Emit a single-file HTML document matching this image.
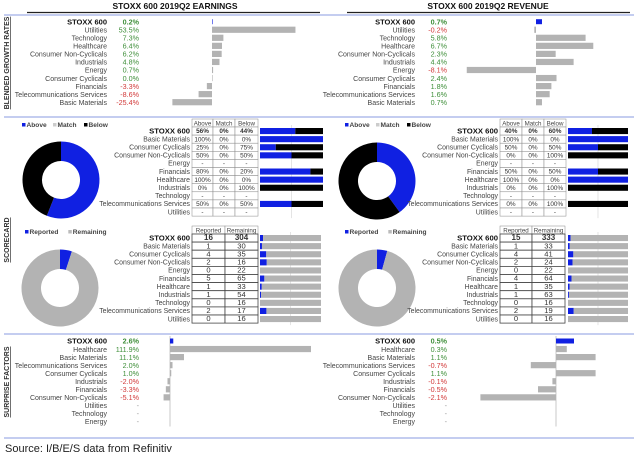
<!DOCTYPE html>
<html><head><meta charset="utf-8">
<style>
html,body{margin:0;padding:0;background:#fff;}
svg{display:block;font-family:"Liberation Sans",Arial,sans-serif;}
</style></head>
<body>
<svg id="c" width="640" height="458" viewBox="0 0 640 458" xmlns="http://www.w3.org/2000/svg"></svg>
<script>
// ---------- DATA ----------
const earnCats=["STOXX 600","Utilities","Technology","Healthcare","Consumer Non-Cyclicals","Industrials","Energy","Consumer Cyclicals","Financials","Telecommunications Services","Basic Materials"];
const earnVals=[0.2,53.5,7.3,6.4,6.2,4.8,0.7,0.0,-3.3,-8.6,-25.4];
const revCats=["STOXX 600","Utilities","Technology","Healthcare","Consumer Non-Cyclicals","Industrials","Energy","Consumer Cyclicals","Financials","Telecommunications Services","Basic Materials"];
const revVals=[0.7,-0.2,5.8,6.7,2.3,4.4,-8.1,2.4,1.8,1.6,0.7];
const scoreCats=["STOXX 600","Basic Materials","Consumer Cyclicals","Consumer Non-Cyclicals","Energy","Financials","Healthcare","Industrials","Technology","Telecommunications Services","Utilities"];
const earnAbove=[56,100,25,50,null,80,100,0,null,50,null];
const earnMatch=[0,0,0,0,null,0,0,0,null,0,null];
const earnBelow=[44,0,75,50,null,20,0,100,null,50,null];
const revAbove=[40,100,50,0,null,50,100,0,null,0,null];
const revMatch=[0,0,0,0,null,0,0,0,null,0,null];
const revBelow=[60,0,50,100,null,50,0,100,null,100,null];
const earnReported=[16,1,4,2,0,5,1,1,0,2,0];
const earnRemaining=[304,30,35,16,22,65,33,54,16,17,16];
const revReported=[15,1,4,2,0,4,1,1,0,2,0];
const revRemaining=[333,33,41,24,22,64,35,63,16,19,16];
const surpECats=["STOXX 600","Healthcare","Basic Materials","Telecommunications Services","Consumer Cyclicals","Industrials","Financials","Consumer Non-Cyclicals","Utilities","Technology","Energy"];
const surpEVals=[2.6,111.9,11.1,2.0,1.0,-2.0,-3.3,-5.1,null,null,null];
const surpRCats=["STOXX 600","Healthcare","Basic Materials","Telecommunications Services","Consumer Cyclicals","Industrials","Financials","Consumer Non-Cyclicals","Utilities","Technology","Energy"];
const surpRVals=[0.5,0.3,1.1,-0.7,1.1,-0.1,-0.5,-2.1,null,null,null];

// ---------- HELPERS ----------
const NS="http://www.w3.org/2000/svg";
const svg=document.getElementById('c');
const BLUE="#1020e2",GREY="#b3b3b3",GREEN="#3f8f3a",RED="#d23a3a",LINE="#8a9be0";
function mk(tag,attrs,parent){const e=document.createElementNS(NS,tag);for(const k in attrs)e.setAttribute(k,attrs[k]);(parent||svg).appendChild(e);return e;}
function txt(x,y,s,anchor,size,fill,weight){const t=mk('text',{x:x,y:y,'text-anchor':anchor||'start','font-size':size||7.4,fill:fill||'#333','font-weight':weight||'normal'});t.textContent=s;return t;}
function fmt(v){return v===null?'-':v.toFixed(1)+'%';}
function col(v){return v===null?'#999':(v<0?RED:GREEN);}

// ---------- FRAME ----------
let e;
e=txt(175,9,"STOXX 600 2019Q2 EARNINGS",'middle',8.5,'#111','bold');


e=txt(488,9,"STOXX 600 2019Q2 REVENUE",'middle',8.5,'#111','bold');


mk('line',{x1:27,y1:12.5,x2:320,y2:12.5,stroke:'#222','stroke-width':1.2});
mk('line',{x1:347,y1:12.5,x2:630,y2:12.5,stroke:'#222','stroke-width':1.2});
[15,117,334,438].forEach(y=>{mk('line',{x1:4,y1:y,x2:634,y2:y,stroke:LINE,'stroke-width':1});});

function vlabel(s,cx,cy,name){
  const t=mk('text',{x:0,y:0,'text-anchor':'middle','font-size':7,'font-weight':'bold',fill:'#333',transform:`translate(${cx},${cy}) rotate(-90)`,'text-decoration':'underline'});
  t.textContent=s;
  
  
}
vlabel("BLENDED GROWTH RATES",9,63,'growth-section-label');
vlabel("SCORECARD",9,240,'scorecard-section-label');
vlabel("SURPRISE FACTORS",9,382,'surprise-section-label');

// ---------- GROWTH / SURPRISE PANELS ----------
function barPanel(cats,vals,labelX,valX,axisX,scale,y0,pre,axisLine){
  const step=8.05;
  const g=mk('g',{});
  
  
  if(axisLine){mk('line',{x1:axisX,y1:y0-5,x2:axisX,y2:y0+step*(cats.length-1)+5,stroke:'#bbb','stroke-width':0.8},g);}
  cats.forEach((c,i)=>{
    const cy=y0+i*step, v=vals[i], first=i===0;
    const l=txt(labelX,cy+2.7,c,'end',first?7.5:7.0,first?'#111':'#444',first?'bold':'normal');
    
    
    g.appendChild(l);
    const vt=txt(valX,cy+2.7,fmt(v),'end',7.2,col(v),first?'bold':'normal');
    
    
    g.appendChild(vt);
    if(v!==null){
      const w=Math.abs(v)*scale, h=first?5:6.2;
      const r=mk('rect',{x:v>=0?axisX:axisX-w,y:cy-h/2,width:Math.max(w,0.6),height:h,fill:first?BLUE:GREY},g);
      
      
    }
  });
}
barPanel(earnCats,earnVals,107,139,212,1.56,21.7,'earnings-growth',false);
barPanel(revCats,revVals,415,447,536,8.55,21.7,'revenue-growth',false);
barPanel(surpECats,surpEVals,107,139,170,1.26,341,'earnings-surprise',true);
barPanel(surpRCats,surpRVals,415,447,556,36,341,'revenue-surprise',true);

// ---------- DONUTS ----------
function pt(cx,cy,r,f){const a=f*2*Math.PI;return [cx+r*Math.sin(a),cy-r*Math.cos(a)];}
function seg(cx,cy,r0,r1,f0,f1,fill,name){
  if(f1-f0<=0)return;
  if(f1-f0>=0.9999)f1=f0+0.9999;
  const L=(f1-f0)>0.5?1:0;
  const a=pt(cx,cy,r1,f0),b=pt(cx,cy,r1,f1),c=pt(cx,cy,r0,f1),d=pt(cx,cy,r0,f0);
  const p=mk('path',{d:`M${a[0]},${a[1]}A${r1},${r1} 0 ${L} 1 ${b[0]},${b[1]}L${c[0]},${c[1]}A${r0},${r0} 0 ${L} 0 ${d[0]},${d[1]}Z`,fill:fill});
  
  
}
function donut(cx,cy,parts,colors,names){
  const tot=parts.reduce((a,b)=>a+b,0);let f=0;
  parts.forEach((p,i)=>{const f1=f+p/tot;seg(cx,cy,19,38.5,f,f1,colors[i],names[i]);f=f1;});
}
donut(61,180,[earnAbove[0],earnMatch[0],earnBelow[0]],[BLUE,GREY,'#000'],['donut-above','donut-match','donut-below']);
donut(377,181,[revAbove[0],revMatch[0],revBelow[0]],[BLUE,GREY,'#000'],['donut-above','donut-match','donut-below']);
donut(60,288,[earnReported[0],earnRemaining[0]],[BLUE,GREY],['donut-reported','donut-remaining']);
donut(377,288,[revReported[0],revRemaining[0]],[BLUE,GREY],['donut-reported','donut-remaining']);

// ---------- LEGENDS ----------
function legend(x,y,items,colors,pre){
  let cx=x;
  items.forEach((s,i)=>{
    const r=mk('rect',{x:cx,y:y-4,width:3.5,height:3.5,fill:colors[i]});
    
    
    const t=txt(cx+4.5,y,s,'start',6.6,'#444','bold');
    
    
    cx+=4.5+s.length*4.1+6;
  });
}
legend(22,127,["Above","Match","Below"],[BLUE,'#ccc','#000'],'legend');
legend(345,127,["Above","Match","Below"],[BLUE,'#ccc','#000'],'legend');
legend(25,234,["Reported","Remaining"],[BLUE,'#bbb'],'legend');
legend(345,234,["Reported","Remaining"],[BLUE,'#bbb'],'legend');

// ---------- TABLES ----------
function table(cats,cols,heads,colX,labelX,hTop,rTop,pre,isPct,bold){
  const step=8.1;
  heads.forEach((h,j)=>{
    mk('rect',{x:colX[j],y:hTop,width:colX[j+1]-colX[j],height:rTop-hTop,fill:'#fff',stroke:'#888','stroke-width':0.5});
    const t=txt((colX[j]+colX[j+1])/2,rTop-1.6,h,'middle',6.2,'#444');
    
    
  });
  cats.forEach((c,i)=>{
    const top=rTop+i*step, first=i===0;
    const l=txt(labelX,top+6.3,c,'end',first?7.7:6.9,first?'#111':'#444',first?'bold':'normal');
    
    
    cols.forEach((arr,j)=>{
      mk('rect',{x:colX[j],y:top,width:colX[j+1]-colX[j],height:step,fill:'#fff',stroke:bold?'#444':'#888','stroke-width':bold?0.8:0.5});
      const v=arr[i];
      const s=v===null?'-':(isPct?v+'%':String(v));
      const t=txt((colX[j]+colX[j+1])/2,top+6.2,s,'middle',isPct?6.4:(first?8:7.6),'#333',first?'bold':'normal');
      
      
    });
  });
}
table(scoreCats,[earnAbove,earnMatch,earnBelow],["Above","Match","Below"],[192,213,235,258],190,119,127,'earnings-score',true,false);
table(scoreCats,[revAbove,revMatch,revBelow],["Above","Match","Below"],[500,522,544,566],498,119,127,'revenue-score',true,false);
table(scoreCats,[earnReported,earnRemaining],["Reported","Remaining"],[192,225,258],190,226,234,'earnings-reported',false,true);
table(scoreCats,[revReported,revRemaining],["Reported","Remaining"],[500,532,565],498,226,234,'revenue-reported',false,true);

// ---------- STACKED BARS ----------
function stacked(series,colors,x0,w,rTop,pre){
  const step=8.1;
  mk('line',{x1:x0+w/2,y1:rTop-2,x2:x0+w/2,y2:rTop+step*scoreCats.length+2,stroke:'#ddd','stroke-width':0.8});
  scoreCats.forEach((c,i)=>{
    const vals=series.map(s=>s[i]);
    if(vals.some(v=>v===null))return;
    const tot=vals.reduce((a,b)=>a+b,0);if(!tot)return;
    let x=x0;
    vals.forEach((v,j)=>{
      const ww=v/tot*w;
      if(ww>0){
        const r=mk('rect',{x:x,y:rTop+i*step+1,width:ww,height:step-2,fill:colors[j]});
        
        
      }
      x+=ww;
    });
  });
}
stacked([earnAbove,earnMatch,earnBelow],[BLUE,GREY,'#000'],260,63,127,'earnings-score');
stacked([revAbove,revMatch,revBelow],[BLUE,GREY,'#000'],568,60,127,'revenue-score');
stacked([earnReported,earnRemaining],[BLUE,GREY],260,61,234,'earnings-reported');
stacked([revReported,revRemaining],[BLUE,GREY],568,60,234,'revenue-reported');

// ---------- SOURCE ----------
e=txt(5,452,"Source: I/B/E/S data from Refinitiv",'start',11,'#222');


</script>
</body></html>
